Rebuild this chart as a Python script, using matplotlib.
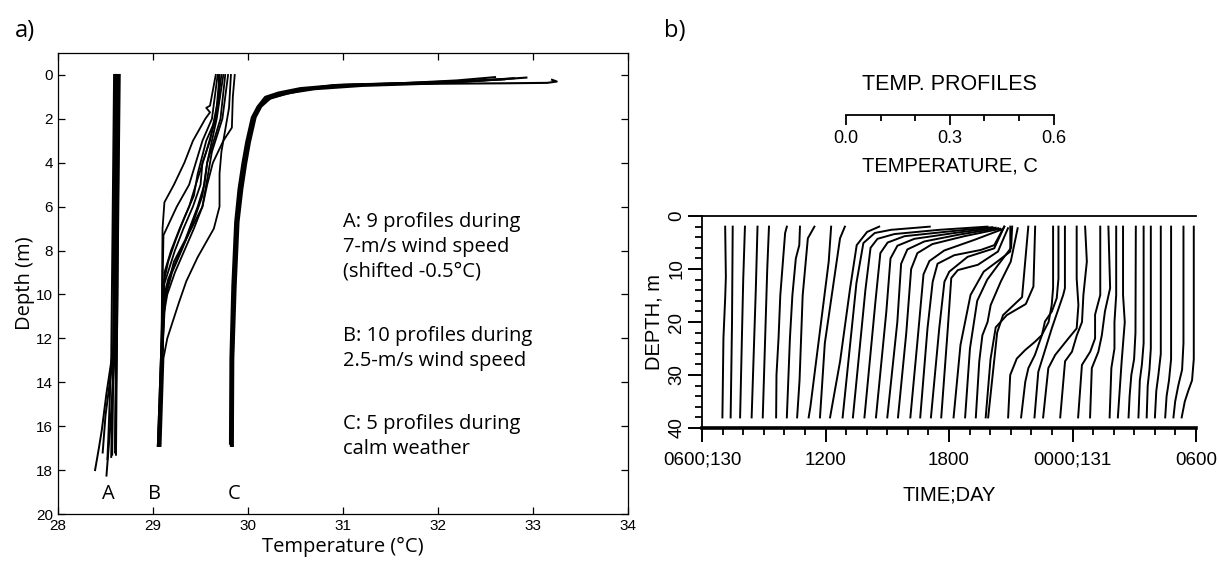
import matplotlib
matplotlib.use("Agg")
import matplotlib.pyplot as plt
from matplotlib import font_manager
from matplotlib.ticker import MultipleLocator

OPEN = ["Open Sans", "DejaVu Sans"]
ARIAL = ["Liberation Sans", "DejaVu Sans"]
# panel b used a narrow plotter-like lettering; take a narrow face when present
_names = {f.name for f in font_manager.fontManager.ttflist}
if "Liberation Sans Narrow" in _names:
    LETTER = ["Liberation Sans Narrow", "Liberation Sans", "DejaVu Sans"]
    LSCALE = 1.15
else:
    LETTER = ARIAL
    LSCALE = 1.0

# ---------------- a) depth (m) / temperature (deg C)
PROF_A_DEPTH = [
    [0, 8, 12, 17.2],
    [0, 10, 17.3],
    [0, 12, 15, 17.4],
    [0, 12.5, 16, 18.25],
    [0, 12.5, 14.5, 16.2, 17, 18],
    [0, 12, 17],
    [0, 13, 16.5, 17.5],
    [0, 12.5, 15.5, 17.2],
    [0, 14, 17.3],
]
PROF_A_TEMP = [
    [28.62, 28.615, 28.61, 28.60],
    [28.64, 28.625, 28.61],
    [28.60, 28.59, 28.57, 28.56],
    [28.63, 28.60, 28.55, 28.51],
    [28.61, 28.58, 28.51, 28.46, 28.43, 28.39],
    [28.65, 28.62, 28.60],
    [28.59, 28.56, 28.53, 28.52],
    [28.62, 28.59, 28.50, 28.47],
    [28.60, 28.58, 28.57],
]

PROF_B_DEPTH = [
    [0, 1.4, 1.5, 1.7, 2, 3, 4, 5, 5.8, 7, 12, 16.9],
    [0, 2, 3, 4, 5, 6, 7.3, 12, 16.9],
    [0, 2, 3.5, 5, 6, 7, 8, 9, 16.9],
    [0, 1, 3, 4, 5, 6, 7, 8, 9.5, 16.9],
    [0, 2, 4, 5, 6, 7.5, 8.5, 10, 16.9],
    [0, 2, 3, 4, 5.5, 6.5, 8, 9, 10.3, 16.9],
    [0, 2, 3.5, 5, 6, 7.2, 8.2, 9.3, 10, 16.9],
    [0, 1.5, 2.5, 3.5, 4.5, 6, 7, 8.3, 9.4, 10.4, 11.2, 12, 12.9, 16.9],
    [0, 1, 2.4, 3, 4, 5, 6, 7, 8, 9, 10, 11, 16.9],
    [0, 1, 2, 3, 4.5, 5.5, 6.5, 7.5, 8.5, 9.5, 16.9],
]
PROF_B_TEMP = [
    [29.66, 29.60, 29.56, 29.60, 29.55, 29.42, 29.33, 29.22, 29.12, 29.10, 29.09, 29.06],
    [29.68, 29.62, 29.52, 29.45, 29.38, 29.25, 29.11, 29.09, 29.05],
    [29.70, 29.66, 29.56, 29.45, 29.38, 29.28, 29.19, 29.12, 29.07],
    [29.72, 29.69, 29.60, 29.52, 29.50, 29.42, 29.32, 29.23, 29.12, 29.07],
    [29.74, 29.67, 29.57, 29.54, 29.47, 29.34, 29.22, 29.13, 29.05],
    [29.76, 29.71, 29.64, 29.57, 29.52, 29.44, 29.30, 29.20, 29.12, 29.06],
    [29.79, 29.73, 29.62, 29.56, 29.52, 29.38, 29.27, 29.16, 29.12, 29.07],
    [29.82, 29.80, 29.76, 29.72, 29.70, 29.70, 29.64, 29.47, 29.35, 29.27, 29.21, 29.15, 29.11, 29.08],
    [29.86, 29.84, 29.83, 29.74, 29.63, 29.57, 29.52, 29.43, 29.33, 29.23, 29.15, 29.11, 29.06],
    [29.69, 29.70, 29.66, 29.56, 29.47, 29.43, 29.33, 29.24, 29.16, 29.11, 29.05],
]

PROF_C_DEPTH = [
    [16.9, 12.9, 9.6, 6.7, 5.2, 4.05, 3.07, 1.93, 1.44, 1.03, 0.82, 0.62, 0.45, 0.38, 0.3, 0.15],
    [16.9, 12.9, 9.6, 6.7, 5.2, 4.05, 3.07, 1.93, 1.44, 1.1, 0.85, 0.65, 0.5, 0.4, 0.25, 0.12],
    [16.8, 12.9, 9.6, 6.7, 5.2, 4.05, 3.07, 1.93, 1.44, 1.0, 0.8, 0.6, 0.45, 0.35, 0.2],
    [16.9, 12.9, 9.6, 6.7, 5.2, 4.05, 3.07, 1.93, 1.44, 1.05, 0.85, 0.62, 0.48, 0.36, 0.25, 0.1],
    [16.9, 12.9, 9.6, 6.7, 5.2, 4.05, 3.07, 1.93, 1.44, 1.03, 0.82, 0.62, 0.47, 0.42, 0.4, 0.38, 0.36, 0.3, 0.22],
]
PROF_C_TEMP = [
    [29.82, 29.825, 29.845, 29.875, 29.915, 29.955, 29.995, 30.055, 30.115, 30.20, 30.36, 30.60, 31.0, 31.6, 32.3, 32.8],
    [29.835, 29.84, 29.86, 29.89, 29.93, 29.97, 30.01, 30.07, 30.13, 30.22, 30.40, 30.70, 31.2, 31.9, 32.5, 32.93],
    [29.81, 29.815, 29.835, 29.865, 29.90, 29.94, 29.98, 30.04, 30.10, 30.18, 30.32, 30.55, 30.95, 31.8, 32.7],
    [29.84, 29.845, 29.87, 29.90, 29.94, 29.98, 30.02, 30.08, 30.14, 30.24, 30.42, 30.65, 31.05, 31.7, 32.2, 32.6],
    [29.825, 29.83, 29.85, 29.88, 29.92, 29.96, 30.00, 30.06, 30.12, 30.21, 30.38, 30.62, 30.9, 31.4, 32.0, 32.7, 33.15, 33.25, 33.2],
]

NOTE_A = "A: 9 profiles during\n7-m/s wind speed\n(shifted -0.5°C)"
NOTE_B = "B: 10 profiles during\n2.5-m/s wind speed"
NOTE_C = "C: 5 profiles during\ncalm weather"

# ---------------- b) time series of profiles
# time (h since 0000 day 130) of each profile at 38 m, and its temperature
# anomaly (deg C) relative to the 38-m value at the listed depths
TS_TIME = [6.99, 7.39, 7.85, 8.41, 8.95, 9.6, 10.12, 10.62, 11.18, 11.73,
           12.22, 12.83, 13.33, 13.89, 14.45, 15.0, 15.52, 16.12, 16.6, 17.12,
           17.62, 18.22, 18.78, 19.3, 19.78, 19.9,
           20.87, 21.5, 22.15, 22.57, 23.4, 24.27, 24.85, 25.8, 26.2,
           26.72, 27.2, 27.6, 28.0, 28.5, 28.9, 29.3]
TS_DEPTH = [
    [2, 11.5, 15.5, 23, 38],
    [2, 20, 38],
    [2, 12, 38],
    [2, 14, 38],
    [2, 10, 38],
    [2, 3.2, 15, 23, 30, 38],
    [2, 5.5, 8, 15, 23, 38],
    [2, 4.2, 15, 31, 38],
    [2, 8.6, 21, 36, 38],
    [2, 4.2, 15, 24, 38],
    [2, 3, 5.5, 13.6, 27.4, 38],
    [2, 2.6, 3.2, 5.1, 12.6, 38],
    [2, 2.6, 3.4, 4.3, 6, 14, 38],
    [2.1, 2.9, 3.8, 5, 7, 16, 38],
    [2.2, 3.2, 4.3, 5.6, 8, 18, 38],
    [2.3, 3.5, 4.8, 6.3, 9, 20, 38],
    [2.4, 3.8, 5.3, 7, 10, 22, 38],
    [2.5, 4.5, 6.5, 8.5, 11, 24, 38],
    [2, 5.5, 6.4, 7.4, 9, 12.4, 21.2, 38],
    [2, 6.1, 7.7, 10.5, 12.4, 21.2, 38],
    [2.3, 6.7, 9.2, 10.2, 11.7, 21.2, 38],
    [2, 6.7, 8.6, 10.5, 14.9, 24.3, 38],
    [2, 6, 9, 12, 16, 25, 38],
    [2.3, 8.6, 12.4, 16.8, 20, 22.5, 27.4, 38],
    [2, 13.3, 16.6, 18.7, 21, 27, 38],
    [2, 15.3, 18.7, 22, 38],
    [2, 13.6, 16.8, 20, 22.5, 23.7, 25.3, 26.9, 30, 38],
    [2, 11.8, 15.5, 18, 19.9, 22.5, 26.2, 28.7, 31.3, 38],
    [2, 13.6, 14.9, 21.2, 29.4, 38],
    [2, 11.8, 16.8, 21.2, 23.1, 26.2, 28.7, 38],
    [2, 8.6, 14.9, 20, 22.5, 25.6, 27.4, 38],
    [2, 14.9, 18.6, 23.1, 25.6, 28.1, 38],
    [2, 13.6, 18, 22.5, 25.6, 28.7, 38],
    [2, 14.9, 20, 25, 28.7, 38],
    [2, 14.9, 20, 27.4, 38],
    [2, 22, 27, 30, 34, 38],
    [2, 24, 28, 31, 38],
    [2, 25, 29, 32, 38],
    [2, 26, 30, 33, 38],
    [2, 27, 31, 34, 38],
    [2, 24, 29, 32, 35, 38],
    [2, 27, 31, 33, 35, 38],
]
TS_ANOM = [
    [0.008, 0.010, 0.008, 0.003, 0],
    [0.006, 0.004, 0],
    [0.014, 0.009, 0],
    [0.017, 0.012, 0],
    [0.018, 0.013, 0],
    [0.031, 0.026, 0.012, 0.007, 0.001, 0],
    [0.038, 0.036, 0.026, 0.016, 0.009, 0],
    [0.050, 0.031, 0.016, 0.007, 0],
    [0.065, 0.058, 0.034, 0.005, 0],
    [0.072, 0.058, 0.034, 0.014, 0],
    [0.142, 0.107, 0.077, 0.058, 0.029, 0],
    [0.252, 0.140, 0.093, 0.060, 0.040, 0],
    [0.389, 0.250, 0.120, 0.071, 0.051, 0.036, 0],
    [0.370, 0.246, 0.116, 0.067, 0.046, 0.032, 0],
    [0.346, 0.227, 0.111, 0.062, 0.042, 0.030, 0],
    [0.321, 0.208, 0.107, 0.058, 0.040, 0.029, 0],
    [0.296, 0.192, 0.099, 0.056, 0.038, 0.024, 0],
    [0.266, 0.185, 0.098, 0.055, 0.038, 0.020, 0],
    [0.243, 0.214, 0.175, 0.098, 0.050, 0.036, 0.021, 0],
    [0.212, 0.183, 0.106, 0.053, 0.039, 0.024, 0],
    [0.193, 0.164, 0.106, 0.048, 0.029, 0.019, 0],
    [0.164, 0.164, 0.126, 0.087, 0.049, 0.020, 0],
    [0.136, 0.133, 0.098, 0.064, 0.035, 0.014, 0],
    [0.121, 0.101, 0.072, 0.043, 0.034, 0.019, 0.010, 0],
    [0.143, 0.138, 0.116, 0.061, 0.029, 0.014, 0],
    [0.116, 0.098, 0.043, 0.026, 0],
    [0.130, 0.130, 0.126, 0.117, 0.097, 0.078, 0.049, 0.025, 0.006, 0],
    [0.108, 0.108, 0.103, 0.089, 0.069, 0.060, 0.040, 0.021, 0.012, 0],
    [0.088, 0.088, 0.083, 0.050, 0.011, 0],
    [0.097, 0.097, 0.102, 0.097, 0.073, 0.035, 0.015, 0],
    [0.072, 0.077, 0.067, 0.063, 0.048, 0.034, 0.014, 0],
    [0.064, 0.064, 0.049, 0.049, 0.035, 0.011, 0],
    [0.053, 0.058, 0.043, 0.034, 0.024, 0.005, 0],
    [0.019, 0.019, 0.014, 0.014, 0.005, 0],
    [0.015, 0.015, 0.020, 0.011, 0],
    [0.021, 0.020, 0.016, 0.008, 0.003, 0],
    [0.015, 0.015, 0.010, 0.004, 0],
    [0.012, 0.012, 0.008, 0.003, 0],
    [0.017, 0.017, 0.010, 0.004, 0],
    [0.017, 0.017, 0.011, 0.004, 0],
    [0.029, 0.029, 0.025, 0.014, 0.005, 0],
    [0.035, 0.035, 0.030, 0.019, 0.009, 0],
]
TIME_TICKS = [6, 12, 18, 24, 30]
TIME_LABELS = ["0600;130", "1200", "1800", "0000;131", "0600"]
HOURS_PER_DEG = 16.8      # horizontal scale of the profiles (from the scale bar)
SCALE_START = 13.0        # hour where the 0.0 mark of the scale bar sits
SCALE_TICKS = [0.0, 0.3, 0.6]

fig = plt.figure(figsize=(12.19, 5.62), dpi=100)

# ---------------- panel a
ax = fig.add_axes([0.0476, 0.0854, 0.4676, 0.8203])
for d, t in zip(PROF_A_DEPTH, PROF_A_TEMP):
    ax.plot(t, d, color="k", lw=1.4)
for d, t in zip(PROF_B_DEPTH, PROF_B_TEMP):
    ax.plot(t, d, color="k", lw=1.3)
for d, t in zip(PROF_C_DEPTH, PROF_C_TEMP):
    ax.plot(t, d, color="k", lw=1.5)
ax.set_xlim(28, 34)
ax.set_ylim(20, -1)
ax.set_xticks(range(28, 35))
ax.set_yticks(range(0, 21, 2))
ax.tick_params(direction="in", top=True, right=True, length=5, width=0.9,
               labelsize=11, labelfontfamily=ARIAL)
for s in ax.spines.values():
    s.set_linewidth(0.9)
ax.set_xlabel("Temperature (°C)", fontsize=14.5, family=OPEN, labelpad=3)
ax.set_ylabel("Depth (m)", fontsize=14.5, family=OPEN, labelpad=1)

ax.text(31.0, 6.25, NOTE_A, fontsize=14.5, family=OPEN, va="top", linespacing=1.32)
ax.text(31.0, 11.45, NOTE_B, fontsize=14.5, family=OPEN, va="top", linespacing=1.32)
ax.text(31.0, 15.45, NOTE_C, fontsize=14.5, family=OPEN, va="top", linespacing=1.32)
for lab, x in zip(["A", "B", "C"], [28.53, 29.02, 29.85]):
    ax.text(x, 19.1, lab, fontsize=14.5, family=OPEN, ha="center", va="center")

fig.text(0.012, 0.945, "a)", fontsize=17, family=OPEN, va="center")
fig.text(0.545, 0.945, "b)", fontsize=17, family=OPEN, va="center")

# ---------------- panel b
axb = fig.add_axes([0.5759, 0.2384, 0.4053, 0.3772])
for t, d, a in zip(TS_TIME, TS_DEPTH, TS_ANOM):
    x = [t + v * HOURS_PER_DEG for v in a]
    axb.plot(x, d, color="k", lw=1.4, solid_joinstyle="round")
axb.set_xlim(6, 30)
axb.set_ylim(40, 0)
axb.spines["right"].set_visible(False)
axb.spines["bottom"].set_linewidth(2.6)
axb.spines["top"].set_linewidth(1.3)
axb.spines["left"].set_linewidth(1.3)
axb.set_xticks(TIME_TICKS)
axb.set_xticklabels(TIME_LABELS)
axb.xaxis.set_minor_locator(MultipleLocator(1))
axb.set_yticks([0, 10, 20, 30, 40])
axb.yaxis.set_minor_locator(MultipleLocator(2))
axb.tick_params(which="major", direction="out", length=10, width=1.4,
                labelsize=13.5 * LSCALE, labelfontfamily=LETTER)
axb.tick_params(which="minor", direction="out", length=5, width=1.3)
axb.tick_params(axis="x", which="major", pad=7)
axb.tick_params(axis="y", which="major", pad=2, labelrotation=90)
for lab in axb.get_yticklabels():
    lab.set_va("center")
axb.text(-0.097, 0.5, "DEPTH, m", transform=axb.transAxes, rotation=90,
         ha="center", va="center", fontsize=14.5 * LSCALE, family=LETTER)
axb.text(0.5, -0.316, "TIME;DAY", transform=axb.transAxes,
         ha="center", va="center", fontsize=14.5 * LSCALE, family=LETTER)

# temperature scale bar above panel b
pos = axb.get_position()
sx0 = pos.x0 + (SCALE_START - 6) / 24 * pos.width
sw = SCALE_TICKS[-1] * HOURS_PER_DEG / 24 * pos.width
axs = fig.add_axes([sx0, 1 - 115 / 562, sw, 0.0001])
axs.patch.set_visible(False)
axs.set_xlim(SCALE_TICKS[0], SCALE_TICKS[-1])
for s in ["left", "right", "bottom"]:
    axs.spines[s].set_visible(False)
axs.spines["top"].set_linewidth(1.3)
axs.set_yticks([])
axs.set_xticks(SCALE_TICKS)
axs.set_xticklabels(["%.1f" % v for v in SCALE_TICKS])
axs.set_xticks([0.1, 0.2, 0.4, 0.5], minor=True)
axs.tick_params(which="both", top=True, bottom=False, labeltop=False,
                labelbottom=True, direction="in", width=1.3)
axs.tick_params(which="major", length=7, pad=11, labelsize=13 * LSCALE,
                labelfontfamily=LETTER)
axs.tick_params(which="minor", length=4)
cx = sx0 + sw / 2
fig.text(cx, 1 - 85 / 562, "TEMP. PROFILES", ha="center", va="center",
         fontsize=15.5 * LSCALE, family=LETTER)
fig.text(cx, 1 - 166 / 562, "TEMPERATURE, C", ha="center", va="center",
         fontsize=14.5 * LSCALE, family=LETTER)

fig.savefig("out.png", dpi=100)
